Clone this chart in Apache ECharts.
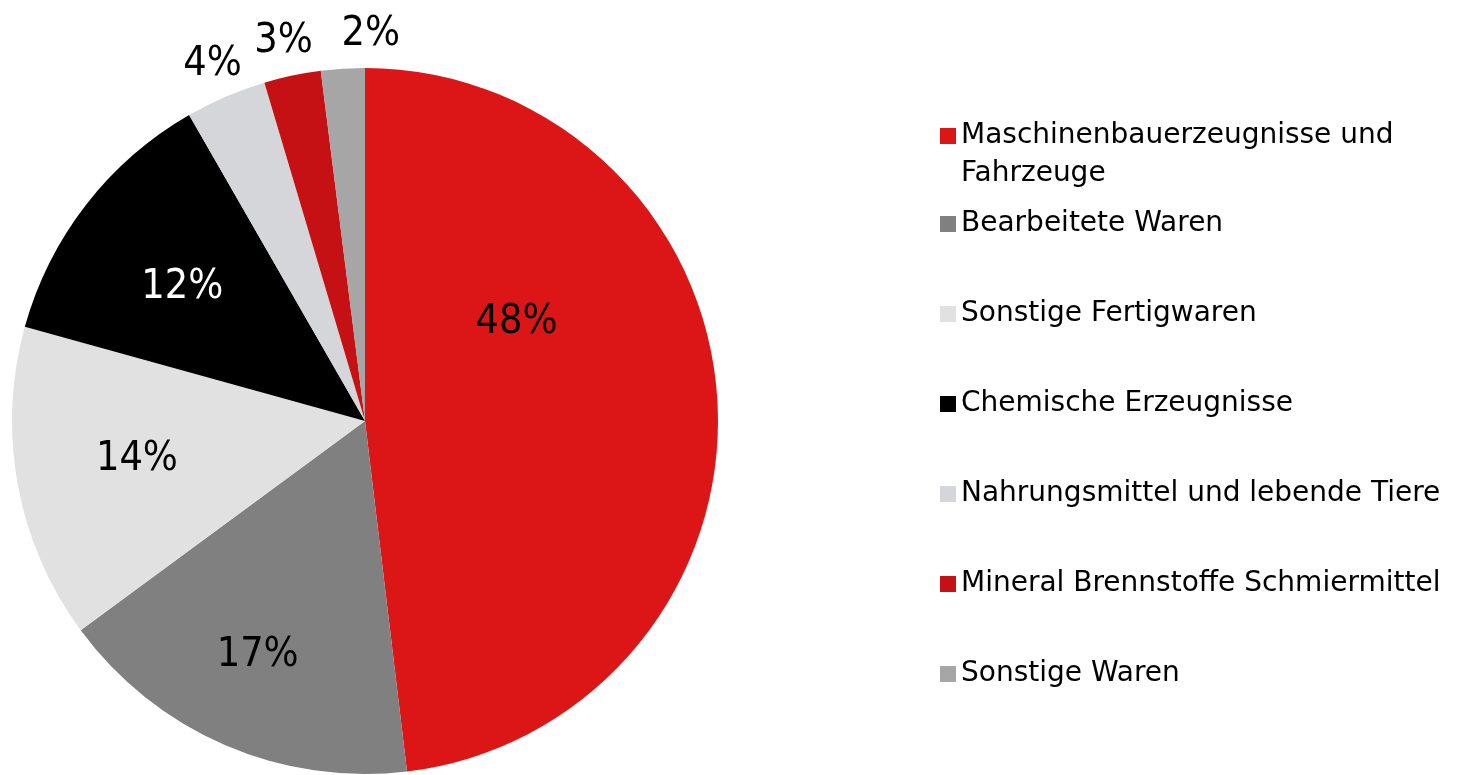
<!DOCTYPE html>
<html>
<head>
<meta charset="utf-8">
<title>Warengruppen</title>
<script src="https://cdn.jsdelivr.net/npm/echarts@6/dist/echarts.min.js"></script>
<style>
    html, body { margin: 0; padding: 0; background: #fff; }
    #pie-chart { width: 1472px; height: 775px; }
</style>
</head>
<body>
<div id="pie-chart"></div>
<script>
// data (slice angles), labels show rounded percent
const categories = [
    'Maschinenbauerzeugnisse und Fahrzeuge',
    'Bearbeitete Waren',
    'Sonstige Fertigwaren',
    'Chemische Erzeugnisse',
    'Nahrungsmittel und lebende Tiere',
    'Mineral Brennstoffe Schmiermittel',
    'Sonstige Waren'
];
const shares = [48.1, 16.8, 14.4, 12.4, 3.7, 2.6, 2.0];

const sliceColors = ['#dc1517', '#808080', '#e1e1e1', '#000000', '#d5d6da', '#c51114', '#a6a6a6'];
const labelColors = ['#000', '#000', '#000', '#fff', '#000', '#000', '#000'];

const pieCenter = [365, 421];
const pieRadius = 353;
// hand placed label tweaks (px), like in the original
const labelNudge = [[-88, -84], [-12, 14], [8, -5], [7, 13], [0, -1], [-2, -1], [30, -1]];

function pieChart() {
    const chart = echarts.init(document.getElementById('pie-chart'));
    const total = shares.reduce((a, b) => a + b, 0);

    // mid angle of every slice, start at the top and go clockwise
    const midAngles = [];
    let cum = 0;
    shares.forEach(v => {
        midAngles.push(90 - (cum + v / 2) / total * 360);
        cum += v;
    });

    const legendText = {
        fontFamily: 'DejaVu Sans',
        fontSize: 28,
        color: '#000',
        lineHeight: 38
    };

    var option = {
        animation: false,
        legend: [
            {
                // first entry wraps on two lines, empty first line keeps the icon on "...und"
                data: [categories[0]],
                orient: 'vertical',
                left: 940,
                top: 79,
                padding: 0,
                icon: 'rect',
                itemWidth: 16,
                itemHeight: 16,
                selectedMode: false,
                formatter: name => '\n' + name.replace(' und ', ' und\n'),
                textStyle: legendText
            },
            {
                data: categories.slice(1),
                orient: 'vertical',
                left: 940,
                top: 205,
                padding: 0,
                icon: 'rect',
                itemWidth: 16,
                itemHeight: 16,
                itemGap: 52,
                selectedMode: false,
                textStyle: legendText
            }
        ],
        series: [
            {
                type: 'pie',
                center: pieCenter,
                radius: pieRadius,
                startAngle: 90,
                clockwise: true,
                avoidLabelOverlap: false,
                silent: true,
                data: categories.map((name, i) => ({
                    name: name,
                    value: shares[i],
                    itemStyle: { color: sliceColors[i] },
                    label: { color: labelColors[i] }
                })),
                label: {
                    show: true,
                    position: 'inside',
                    formatter: p => Math.round(p.value) + '%',
                    fontFamily: "'Liberation Sans Narrow', 'DejaVu Sans Condensed', sans-serif",
                    fontSize: 41
                },
                labelLine: { show: false },
                labelLayout: function (p) {
                    const i = p.dataIndex;
                    const k = shares[i] < 5 ? 1.095 : 0.68;
                    const a = midAngles[i] * Math.PI / 180;
                    const x = pieCenter[0] + k * pieRadius * Math.cos(a) + labelNudge[i][0];
                    const y = pieCenter[1] - k * pieRadius * Math.sin(a) + labelNudge[i][1];
                    return { x: x, y: y, align: 'center', verticalAlign: 'middle' };
                }
            }
        ]
    };

    option && chart.setOption(option);
}

pieChart();
</script>
</body>
</html>
